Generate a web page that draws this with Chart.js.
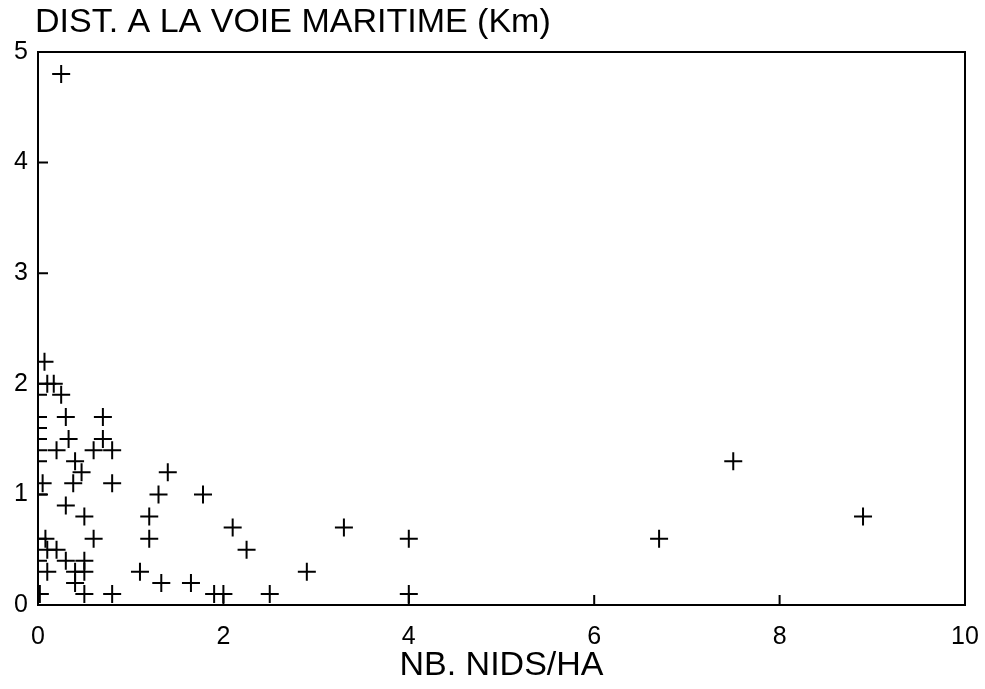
<!DOCTYPE html>
<html>
<head>
<meta charset="utf-8">
<script src="https://cdn.jsdelivr.net/npm/chart.js@4/dist/chart.umd.min.js"></script>
<style>
  html, body { margin: 0; padding: 0; background: #fff; }
  #wrap { width: 985px; height: 689px; }
</style>
</head>
<body>
<div id="wrap"><canvas id="chart"></canvas></div>
<script>
// nombre de nids par hectare (x) et distance a la voie maritime en km (y)
const nidsHa = [
  0.25,
  0.07, 0.1, 0.17, 0.0, 0.25,
  0.0, 0.3, 0.7, 0.0,
  0.0, 0.33, 0.7,
  0.0, 0.2, 0.6, 0.8,
  0.0, 0.4, 0.47,
  0.05, 0.38, 0.8, 0.0,
  0.3, 0.5,
  1.4, 1.3, 1.78, 1.2, 1.2, 0.6,
  2.1, 2.25, 3.3, 4.0, 6.7, 7.5, 8.9,
  1.1, 1.33, 1.65, 1.9, 2.0, 2.5, 2.9, 4.0,
  0.0, 0.08, 0.1, 0.2,
  0.0, 0.3, 0.5,
  0.1, 0.4, 0.5, 0.4,
  0.02, 0.5, 0.8
];
const distKm = [
  4.8,
  2.2, 2.0, 2.0, 1.9, 1.9,
  1.7, 1.7, 1.7, 1.6,
  1.5, 1.5, 1.5,
  1.4, 1.4, 1.4, 1.4,
  1.3, 1.3, 1.2,
  1.1, 1.1, 1.1, 1.0,
  0.9, 0.8,
  1.2, 1.0, 1.0, 0.8, 0.6, 0.6,
  0.7, 0.5, 0.7, 0.6, 0.6, 1.3, 0.8,
  0.3, 0.2, 0.2, 0.1, 0.1, 0.1, 0.3, 0.1,
  0.6, 0.6, 0.5, 0.5,
  0.4, 0.4, 0.4,
  0.3, 0.3, 0.3, 0.2,
  0.1, 0.1, 0.1
];
const xTicks = [0, 2, 4, 6, 8, 10];
const yTicks = [0, 1, 2, 3, 4, 5];

const titreY = 'DIST. A LA VOIE MARITIME (Km)';
const titreX = 'NB. NIDS/HA';
const police = "'Liberation Sans', Arial, sans-serif";

const points = nidsHa.map((x, i) => ({ x: x, y: distKm[i] }));

// cadre, graduations interieures et titre du haut
const cadre = {
  id: 'cadre',
  afterDraw(chart) {
    const ctx = chart.ctx;
    const a = chart.chartArea;
    const sx = chart.scales.x, sy = chart.scales.y;
    ctx.save();
    ctx.strokeStyle = '#000';
    ctx.lineWidth = 2;
    ctx.strokeRect(a.left, a.top, a.right - a.left, a.bottom - a.top);
    ctx.beginPath();
    xTicks.forEach(v => {
      const px = sx.getPixelForValue(v);
      ctx.moveTo(px, a.bottom);
      ctx.lineTo(px, a.bottom - 10);
    });
    yTicks.forEach(v => {
      const py = sy.getPixelForValue(v);
      ctx.moveTo(a.left, py);
      ctx.lineTo(a.left + 10, py);
    });
    ctx.stroke();
    ctx.fillStyle = '#000';
    ctx.font = '34px ' + police;
    ctx.textAlign = 'left';
    ctx.textBaseline = 'middle';
    ctx.fillText(titreY, a.left - 3, a.top - 29);
    ctx.restore();
  }
};

new Chart(document.getElementById('chart'), {
  type: 'scatter',
  data: {
    datasets: [{
      data: points,
      pointStyle: 'cross',
      pointRadius: 9,
      borderColor: '#000',
      borderWidth: 2,
      pointHoverRadius: 9
    }]
  },
  options: {
    responsive: true,
    maintainAspectRatio: false,
    animation: false,
    layout: { padding: { top: 52, right: 20, left: 0, bottom: 0 } },
    plugins: {
      legend: { display: false },
      tooltip: { enabled: false }
    },
    scales: {
      x: {
        type: 'linear',
        min: 0,
        max: 10,
        afterBuildTicks: s => { s.ticks = xTicks.map(v => ({ value: v })); },
        afterFit: s => { s.height = 84; s.paddingLeft = 0; s.paddingRight = 0; },
        grid: { display: false, drawTicks: false },
        border: { display: false },
        ticks: { color: '#000', padding: 17, maxRotation: 0, font: { family: police, size: 25 } },
        title: { display: true, text: titreX, color: '#000', padding: { top: 0, bottom: 3 }, font: { family: police, size: 34 } }
      },
      y: {
        type: 'linear',
        min: 0,
        max: 5,
        afterBuildTicks: s => { s.ticks = yTicks.map(v => ({ value: v })); },
        afterFit: s => { s.width = 38; s.paddingTop = 0; s.paddingBottom = 0; },
        grid: { display: false, drawTicks: false },
        border: { display: false },
        ticks: { color: '#000', padding: 10, font: { family: police, size: 25 } }
      }
    }
  },
  plugins: [cadre]
});
</script>
</body>
</html>
